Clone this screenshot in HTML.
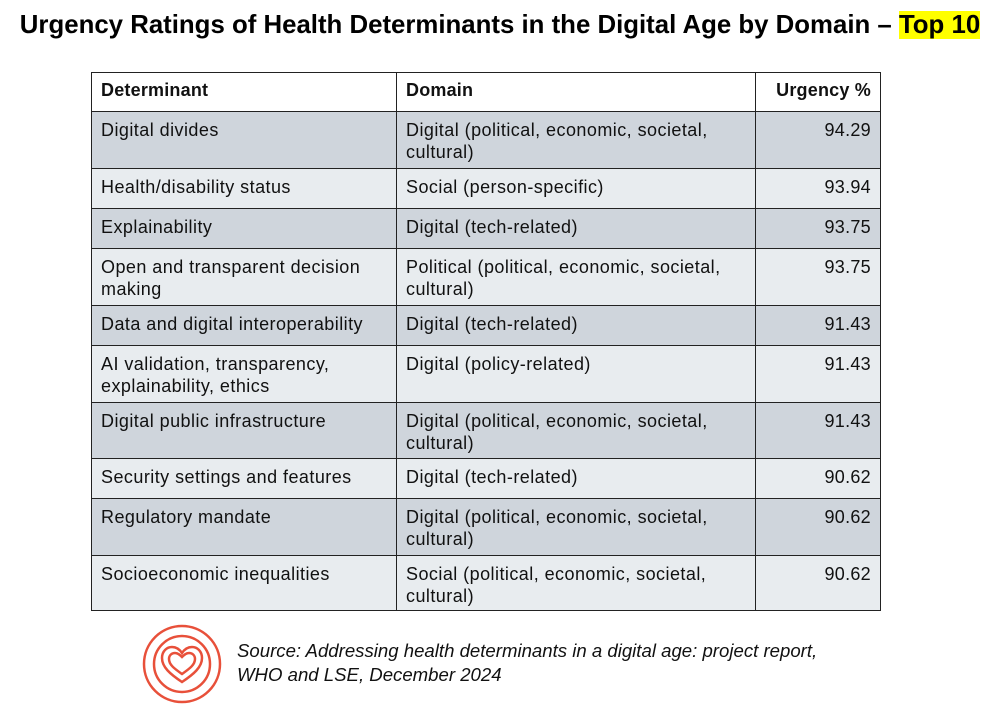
<!DOCTYPE html>
<html><head><meta charset="utf-8"><style>
body{margin:0;width:1000px;height:720px;background:#fff;font-family:"Liberation Sans",sans-serif;position:relative;overflow:hidden}
.title{position:absolute;left:0;width:1000px;top:11px;text-align:center;font-size:25.8px;font-weight:bold;color:#000;white-space:nowrap}
.hl{background:#ffff00}
table{position:absolute;left:91px;top:72px;border-collapse:collapse;font-size:18px;letter-spacing:0.45px;color:#111}
td{border:1.5px solid #222;vertical-align:top;padding:7px 9px 0 9px;line-height:22px;box-sizing:border-box;white-space:nowrap}
td.n{text-align:right;letter-spacing:0.3px}
tr.h td{font-weight:bold;background:#fff;height:39px;padding-top:6px;letter-spacing:0.2px}
tr.d td{background:#cfd5dc}
tr.l td{background:#e8ecef}
.src{position:absolute;left:237px;top:639px;font-size:18.6px;font-style:italic;line-height:24px;color:#111;white-space:nowrap}
</style></head><body>
<div class="title">Urgency Ratings of Health Determinants in the Digital Age by Domain – <span class="hl">Top 10</span></div>
<table>
<colgroup><col style="width:305px"><col style="width:359px"><col style="width:125px"></colgroup>
<tr class="h"><td>Determinant</td><td>Domain</td><td class="n">Urgency %</td></tr>
<tr class="d" style="height:57px"><td>Digital divides</td><td>Digital (political, economic, societal,<br>cultural)</td><td class="n">94.29</td></tr>
<tr class="l" style="height:40px"><td>Health/disability status</td><td>Social (person-specific)</td><td class="n">93.94</td></tr>
<tr class="d" style="height:40px"><td>Explainability</td><td>Digital (tech-related)</td><td class="n">93.75</td></tr>
<tr class="l" style="height:57px"><td>Open and transparent decision<br>making</td><td>Political (political, economic, societal,<br>cultural)</td><td class="n">93.75</td></tr>
<tr class="d" style="height:40px"><td>Data and digital interoperability</td><td>Digital (tech-related)</td><td class="n">91.43</td></tr>
<tr class="l" style="height:57px"><td>AI validation, transparency,<br>explainability, ethics</td><td>Digital (policy-related)</td><td class="n">91.43</td></tr>
<tr class="d" style="height:56px"><td>Digital public infrastructure</td><td>Digital (political, economic, societal,<br>cultural)</td><td class="n">91.43</td></tr>
<tr class="l" style="height:40px"><td>Security settings and features</td><td>Digital (tech-related)</td><td class="n">90.62</td></tr>
<tr class="d" style="height:57px"><td>Regulatory mandate</td><td>Digital (political, economic, societal,<br>cultural)</td><td class="n">90.62</td></tr>
<tr class="l" style="height:55px"><td>Socioeconomic inequalities</td><td>Social (political, economic, societal,<br>cultural)</td><td class="n">90.62</td></tr>
</table>
<svg style="position:absolute;left:140px;top:622px" width="84" height="84" viewBox="0 0 84 84">
<g fill="none" stroke="#e8503a" stroke-width="2.5">
<circle cx="42" cy="42" r="38"/>
<circle cx="42" cy="42" r="28"/>
<path d="M42 60 C30 52 22 45 22 36 C22 29 27 25 32 25 C37 25 40 28 42 31 C44 28 47 25 52 25 C57 25 62 29 62 36 C62 45 54 52 42 60Z"/>
<path d="M42 52 C35 47 29 43 29 37 C29 33 32 31 35 31 C38 31 40 33 42 35 C44 33 46 31 49 31 C52 31 55 33 55 37 C55 43 49 47 42 52Z"/>
</g></svg>
<div class="src">Source: Addressing health determinants in a digital age: project report,<br>WHO and LSE, December 2024</div>
</body></html>
